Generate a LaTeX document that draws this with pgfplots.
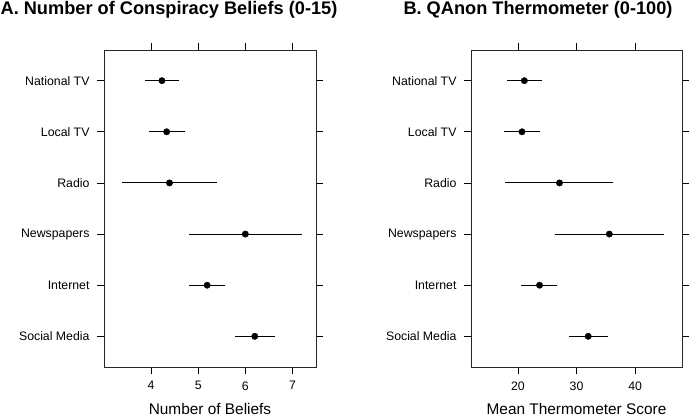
\documentclass[border=0pt]{standalone}
\usepackage{fontspec}
\setmainfont{Liberation Sans}
\usepackage{pgfplots}
\pgfplotsset{compat=1.18}
\usepackage{pgfplotstable}

\pgfplotstableread{
y x lo hi
6 4.23 3.88 4.60
5 4.33 3.96 4.71
4 4.39 3.38 5.40
3 6.00 4.80 7.21
2 5.19 4.80 5.57
1 6.20 5.79 6.62
}\beliefs

\pgfplotstableread{
y x lo hi
6 21.1 18.2 24.05
5 20.7 17.7 23.7
4 27.1 17.85 36.3
3 35.6 26.4 44.85
2 23.7 20.6 26.7
1 32.0 28.7 35.3
}\thermo

\pgfplotsset{
 dotstyle/.style={
  scale only axis, height=317bp,
  ymin=0.4, ymax=6.6, ytick={1,...,6},
  yticklabels={Social Media,Internet,Newspapers,Radio,Local TV,National TV},
  tick align=outside, major tick length=7bp,
  xtick pos=both, ytick pos=both, xticklabel pos=lower, yticklabel pos=left,
  tick style={black, line width=0.7bp},
  axis line style={line width=0.7bp, black!85},
  ticklabel style={font=\fontsize{12.3bp}{14bp}\selectfont},
  xticklabel style={yshift=-4bp},
  yticklabel style={xshift=-4bp},
  /pgf/number format/assume math mode=true,
  xlabel style={font=\fontsize{15.4bp}{18bp}\selectfont,
    at={(axis description cs:0.5,0)}, anchor=base, yshift=-47.5bp,
    inner sep=0pt},
  anchor=south west,
  clip=false,
 },
 dots/.style={only marks, mark=*, mark size=3.2bp, black,
  error bars/.cd, x dir=both, x explicit, error mark=none,
  error bar style={line width=0.9bp, black}},
}

\begin{document}
\begin{tikzpicture}
\path[use as bounding box] (0,0) rectangle (690bp,417bp);
\begin{axis}[dotstyle, at={(104bp,50bp)}, width=212bp,
  xmin=3, xmax=7.5, xtick={4,5,6,7}, xlabel={Number of Beliefs}]
\addplot[dots] table[x=x, y=y,
  x error plus expr=\thisrow{hi}-\thisrow{x},
  x error minus expr=\thisrow{x}-\thisrow{lo}] {\beliefs};
\end{axis}
\begin{axis}[dotstyle, at={(471bp,50bp)}, width=211bp,
  xmin=12, xmax=48, xtick={20,30,40}, xlabel={Mean Thermometer Score}]
\addplot[dots] table[x=x, y=y,
  x error plus expr=\thisrow{hi}-\thisrow{x},
  x error minus expr=\thisrow{x}-\thisrow{lo}] {\thermo};
\end{axis}
\node[font=\bfseries\fontsize{18.2bp}{20bp}\selectfont] at (169bp,407.5bp) {A. Number of Conspiracy Beliefs (0-15)};
\node[font=\bfseries\fontsize{18.2bp}{20bp}\selectfont] at (538bp,407.5bp) {B. QAnon Thermometer (0-100)};
\end{tikzpicture}
\end{document}
